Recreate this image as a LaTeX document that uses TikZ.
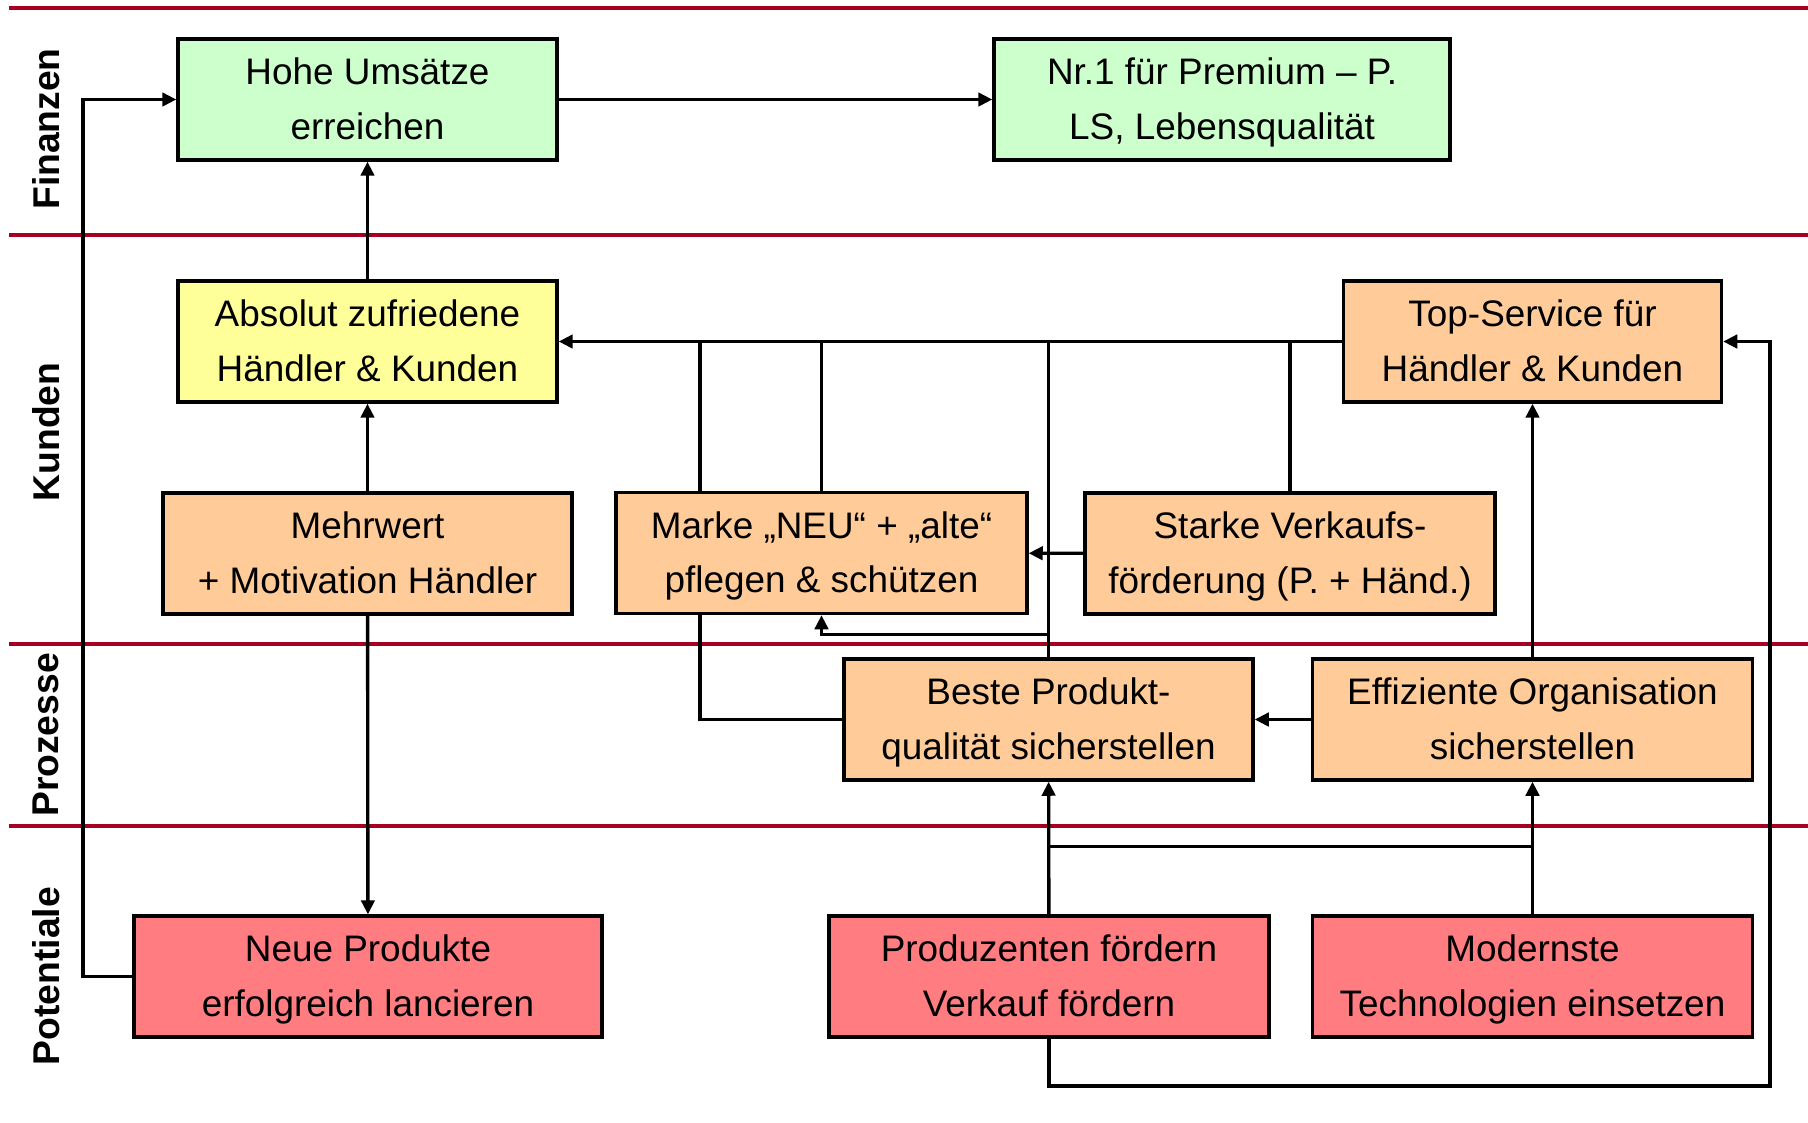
\documentclass[tikz,border=0pt]{standalone}
\usepackage{fontspec}
\setmainfont{Liberation Sans}
\newfontfamily\lanefont{Liberation Sans}
\usepackage{xcolor}
\usepackage{tikz}
\usetikzlibrary{arrows.meta}
\definecolor{zielgruen}{HTML}{CCFFCC}
\definecolor{kundgelb}{HTML}{FFFF99}
\definecolor{massorange}{HTML}{FFCC99}
\definecolor{potrot}{HTML}{FF7C80}
\definecolor{trennrot}{HTML}{A50021}

\begin{document}
\begin{tikzpicture}[x=1cm, y=-1cm, box/.style={draw, line width=0.95pt, inner sep=0pt, minimum height=1.21cm, text height=1.0cm, text depth=0.21cm, align=center, font=\fontsize{10.5}{15.5}\selectfont},%
        ziel/.style={box, fill=zielgruen}, zufr/.style={box, fill=kundgelb}, mass/.style={box, fill=massorange}, pot/.style={box, fill=potrot},%
        lane/.style={rotate=90, font=\lanefont\bfseries\fontsize{10.6}{12}\selectfont},%
        verb/.style={line width=0.95pt}, pfeil/.style={verb, -{Triangle[length=4pt,width=3.8pt]}}, trenn/.style={line width=1.4pt, trennrot}]
    \useasboundingbox (0,0) rectangle (18.08,11.22);
    % Ebenen
    \foreach \y in {0.08,2.35,6.44,8.26}
        \draw[trenn] (0.09,\y) -- (18.08,\y);
    \node[lane] (finanzen) at (0.46,1.29) {Finanzen};
    \node[lane] (kunden) at (0.46,4.32) {Kunden};
    \node[lane] (prozesse) at (0.46,7.35) {Prozesse};
    \node[lane] (potentiale) at (0.46,9.76) {Potentiale};
    % Ziele
    \node[ziel, minimum width=3.79cm] (hohe) at (3.675,0.995) {Hohe Umsätze\\erreichen};
    \node[ziel, minimum width=4.56cm] (nrEins) at (12.22,0.995) {Nr.1 für Premium – P.\\LS, Lebensqualität};
    \node[zufr, minimum width=3.79cm] (absolut) at (3.675,3.415) {Absolut zufriedene\\Händler \& Kunden};
    \node[mass, minimum width=3.78cm] (topservice) at (15.325,3.415) {Top-Service für\\Händler \& Kunden};
    \node[mass, minimum width=4.09cm] (mehrwert) at (3.675,5.535) {Mehrwert\\+ Motivation Händler};
    \node[mass, minimum width=4.11cm] (marke) at (8.215,5.53) {Marke „NEU“ + „alte“\\pflegen \& schützen};
    \node[mass, minimum width=4.10cm] (starke) at (12.90,5.535) {Starke Verkaufs-\\förderung (P. + Händ.)};
    \node[mass, minimum width=4.09cm] (beste) at (10.485,7.195) {Beste Produkt-\\qualität sicherstellen};
    \node[mass, minimum width=4.40cm] (effizient) at (15.325,7.195) {Effiziente Organisation\\sicherstellen};
    \node[pot, minimum width=4.68cm] (neue) at (3.68,9.765) {Neue Produkte\\erfolgreich lancieren};
    \node[pot, minimum width=4.40cm] (produzenten) at (10.49,9.765) {Produzenten fördern\\Verkauf fördern};
    \node[pot, minimum width=4.40cm] (modernste) at (15.325,9.765) {Modernste\\Technologien einsetzen};
    % Hilfspunkte
    \coordinate (links) at (0.83,9.765);
    \coordinate (rechts) at (17.70,10.86);
    \coordinate (markeOben) at ([xshift=-1.215cm]marke.north);
    \coordinate (markeUnten) at ([xshift=-1.215cm]marke.south);
    \coordinate (gabel) at ([yshift=0.23cm]beste.north);
    \coordinate (querA) at ([yshift=0.68cm]produzenten.north);
    \coordinate (querB) at ([yshift=0.68cm]modernste.north);
    % Verbindungen
    \draw[pfeil] (hohe.east) -- (nrEins.west);
    \draw[pfeil] (absolut) -- (hohe);
    \draw[pfeil] (mehrwert) -- (absolut);
    \draw[pfeil] (mehrwert) -- (neue);
    \draw[pfeil] (neue.west) -- (links) |- (hohe.west);
    \draw[pfeil] (topservice.west) -- (absolut.east);
    \draw[verb] (markeOben) -- (markeOben |- absolut.east);
    \draw[verb] (marke.north) -- (marke.north |- absolut.east);
    \draw[verb] (starke.north) -- (starke.north |- absolut.east);
    \draw[verb] (beste.north) -- (beste.north |- absolut.east);
    \draw[pfeil] (gabel) -| (marke.south);
    \draw[verb] (beste.west) -| (markeUnten);
    \draw[pfeil] (starke) -- (marke);
    \draw[pfeil] (effizient) -- (beste);
    \draw[pfeil] (effizient) -- (topservice);
    \draw[pfeil] (produzenten) -- (beste);
    \draw[pfeil] (modernste) -- (effizient);
    \draw[verb] (querA) -- (querB);
    \draw[pfeil] (produzenten.south) |- (rechts) |- (topservice.east);
\end{tikzpicture}
\end{document}
